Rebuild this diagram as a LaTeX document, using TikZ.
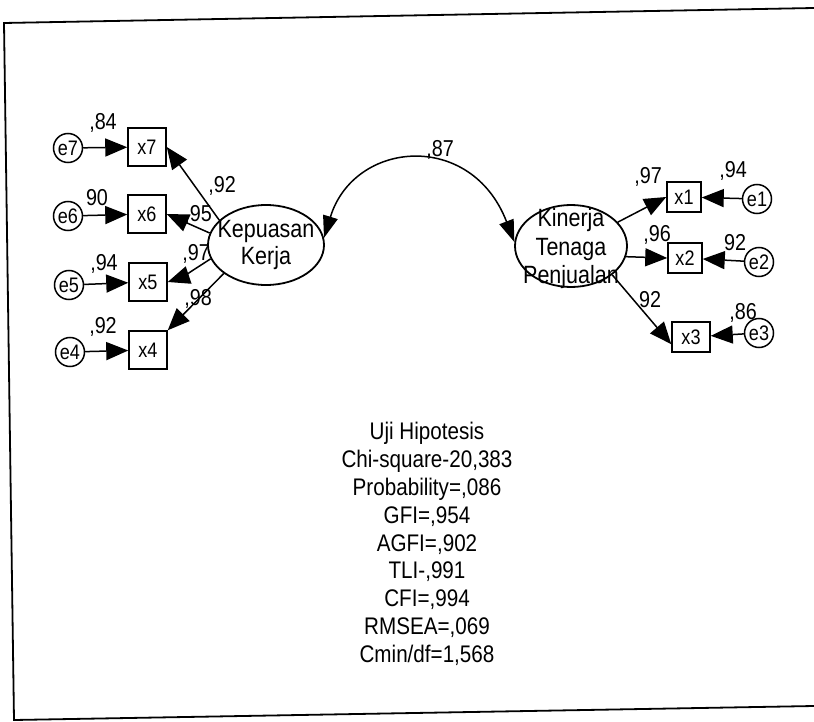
\documentclass[tikz,border=0pt]{standalone}
\usepackage{fontspec}
\setmainfont[FakeStretch=0.86]{Liberation Sans}
\usetikzlibrary{shapes.geometric,arrows.meta}
\begin{document}
\begin{tikzpicture}[x=1pt,y=-1pt,
  lat/.style={draw,line width=1.8pt,ellipse,minimum width=116pt,minimum height=80pt,inner sep=0pt},
  lattext/.style={inner sep=0pt,align=center,font=\fontsize{25}{27}\selectfont},
  obs/.style={draw,line width=1.5pt,rectangle,minimum width=38pt,minimum height=38pt,inner sep=0pt,font=\fontsize{21}{21}\selectfont},
  obsr/.style={obs,minimum width=34pt,minimum height=30pt},
  err/.style={draw,line width=1.5pt,circle,minimum size=29pt,inner sep=0pt,font=\fontsize{21}{21}\selectfont},
  lbl/.style={inner sep=0pt,font=\fontsize{23}{23}\selectfont},
  arr/.style={line width=1.5pt,-{Triangle[length=22pt,width=18pt]}},
  darr/.style={line width=1.5pt,{Triangle[length=22pt,width=15pt]}-{Triangle[length=22pt,width=15pt]}},
  frame/.style={line width=1.8pt},
]
\useasboundingbox (0,0) rectangle (814,722);
% frame
\coordinate (f1) at (814,8);
\coordinate (f2) at (4,23);
\coordinate (f3) at (14,720);
\coordinate (f4) at (814,706);
\draw[frame] (f1) -- (f2) -- (f3) -- (f4);

% latent variables
\node[lat] (kep) at (266,245) {};
\node[lattext] (kept) at (266,245) {Kepuasan\\Kerja};
\node[lat,minimum width=112pt,minimum height=82pt] (kin) at (571,246) {};
\node[lattext,font=\fontsize{25}{28.5}\selectfont] (kint) at (571,249) {Kinerja\\Tenaga\\Penjualan};

% left indicators
\node[obs] (x7) at (147,147) {x7};
\node[obs] (x6) at (147,214) {x6};
\node[obs] (x5) at (148,282) {x5};
\node[obs] (x4) at (148,350) {x4};
\node[err] (e7) at (68,148) {e7};
\node[err] (e6) at (68,216) {e6};
\node[err] (e5) at (69,285) {e5};
\node[err] (e4) at (70,352) {e4};

% right indicators
\node[obsr] (x1) at (684,197) {x1};
\node[obsr] (x2) at (685,258) {x2};
\node[obsr,minimum width=38pt] (x3) at (691,337) {x3};
\node[err] (e1) at (757,199) {e1};
\node[err] (e2) at (759,262) {e2};
\node[err] (e3) at (759,333) {e3};

% error arrows
\draw[arr] (e7) -- (x7);
\draw[arr] (e6) -- (x6);
\draw[arr] (e5) -- (x5);
\draw[arr] (e4) -- (x4);
\draw[arr] (e1) -- (x1);
\draw[arr] (e2) -- (x2);
\draw[arr] (e3) -- (x3);

% loadings
\draw[arr] (kep.152) -- (x7.east);
\draw[arr] (kep.168) -- (x6.east);
\draw[arr] (kep.194) .. controls +(-15,10) and +(12,-4) .. (x5.east);
\draw[arr] (kep.214) -- (x4.north east);
\draw[arr] (kin.27) -- (x1.west);
\draw[arr] (kin.349) -- (x2.west);
\draw[arr] (kin.325) -- (x3.200);

% correlation
\draw[darr] (kep.7) .. controls +(30,-98) and +(-43,-112) .. (kin.176);

% coefficient labels
\node[lbl] (l84) at (103,123) {,84};
\node[lbl] (l90) at (97,198) {90};
\node[lbl] (l94a) at (104,264) {,94};
\node[lbl] (l92a) at (103,327) {,92};
\node[lbl] (l92b) at (222,186) {,92};
\node[lbl] (l95) at (198,215) {,95};
\node[lbl] (l97a) at (196,254) {,97};
\node[lbl] (l98) at (198,299) {,98};
\node[lbl] (l87) at (440,150) {,87};
\node[lbl] (l97b) at (648,177) {,97};
\node[lbl] (l94b) at (733,171) {,94};
\node[lbl] (l96) at (657,235) {,96};
\node[lbl] (l92c) at (735,243) {92};
\node[lbl] (l92d) at (650,300) {92};
\node[lbl] (l86) at (743,313) {,86};

% statistics
\node[inner sep=0pt,align=center,font=\fontsize{24}{27.8}\selectfont] (stats) at (427,544)
 {Uji Hipotesis\\Chi-square-20,383\\Probability=,086\\GFI=,954\\AGFI=,902\\TLI-,991\\CFI=,994\\RMSEA=,069\\Cmin/df=1,568};
\end{tikzpicture}
\end{document}
